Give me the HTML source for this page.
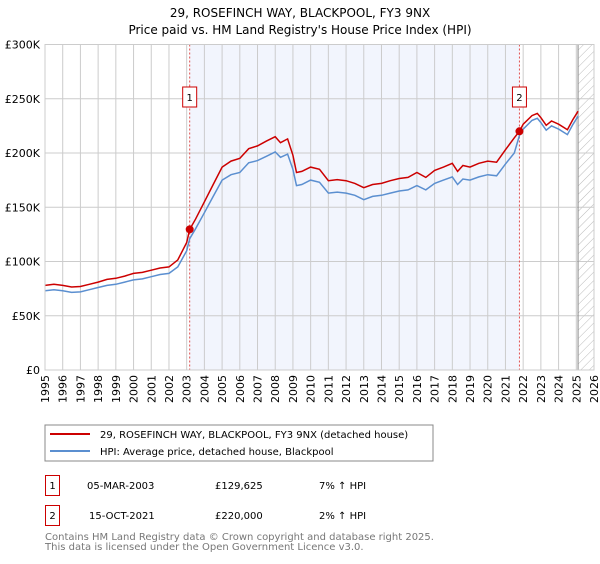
<!DOCTYPE html>
<html><head><meta charset="utf-8"><style>
body{margin:0;background:#fff;font-family:"DejaVu Sans","Liberation Sans",sans-serif;}
svg text{font-family:"DejaVu Sans","Liberation Sans",sans-serif;}
</style></head><body>
<svg id="chart" width="600" height="560" xmlns="http://www.w3.org/2000/svg">
<defs><pattern id="hatch" width="6" height="6" patternUnits="userSpaceOnUse" patternTransform="rotate(45)"><line x1="0" y1="0" x2="0" y2="6" stroke="#bbb" stroke-width="1"/></pattern></defs>
<text x="300" y="17" text-anchor="middle" font-size="12">29, ROSEFINCH WAY, BLACKPOOL, FY3 9NX</text>
<text x="300" y="34" text-anchor="middle" font-size="12">Price paid vs. HM Land Registry's House Price Index (HPI)</text>
<g id="plot"></g>
<rect x="45" y="425" width="388" height="36" fill="#fff" stroke="#888"/>
<line x1="50" y1="434" x2="90" y2="434" stroke="#cc0000" stroke-width="2"/>
<text x="100" y="438" font-size="10">29, ROSEFINCH WAY, BLACKPOOL, FY3 9NX (detached house)</text>
<line x1="50" y1="451" x2="90" y2="451" stroke="#5b8fd0" stroke-width="2"/>
<text x="100" y="455" font-size="10">HPI: Average price, detached house, Blackpool</text>
<rect x="45.5" y="475.5" width="14" height="20" fill="#fff" stroke="#cc0000"/>
<text x="52.5" y="489" text-anchor="middle" font-size="10">1</text>
<text x="87" y="489" font-size="10">05-MAR-2003</text>
<text x="215" y="489" font-size="10">£129,625</text>
<text x="319" y="489" font-size="10">7% ↑ HPI</text>
<rect x="45.5" y="505.5" width="14" height="20" fill="#fff" stroke="#cc0000"/>
<text x="52.5" y="519" text-anchor="middle" font-size="10">2</text>
<text x="89" y="519" font-size="10">15-OCT-2021</text>
<text x="215" y="519" font-size="10">£220,000</text>
<text x="319" y="519" font-size="10">2% ↑ HPI</text>
<text x="45" y="540" font-size="10" fill="#777">Contains HM Land Registry data © Crown copyright and database right 2025.</text>
<text x="45" y="550" font-size="10" fill="#777">This data is licensed under the Open Government Licence v3.0.</text>
</svg>
<script>
const hpiYears=[1995,1995.5,1996,1996.5,1997,1997.5,1998,1998.5,1999,1999.5,2000,2000.5,2001,2001.5,2002,2002.5,2003,2003.17,2003.5,2004,2004.5,2005,2005.5,2006,2006.5,2007,2007.5,2008,2008.3,2008.7,2009,2009.2,2009.5,2010,2010.5,2011,2011.5,2012,2012.5,2013,2013.5,2014,2014.5,2015,2015.5,2016,2016.5,2017,2017.5,2018,2018.3,2018.6,2019,2019.5,2020,2020.5,2021,2021.5,2021.79,2022,2022.5,2022.8,2023,2023.3,2023.6,2024,2024.5,2024.8,2025.1];
const hpiValues=[73,74,73,71.5,72,74,76,78,79,81,83,84,86,88,89,95,110,121,130,145,160,175,180,182,191,193,197,201,196,199,185,170,171,175,173,163,164,163,161,157,160,161,163,165,166,170,166,172,175,178,171,176,175,178,180,179,190,200,216,222,230,232,228,221,225,222,217,226,234];
const priceYears=hpiYears;
const priceValues=[78,79,78,76.5,77,79,81,83.5,84.5,86.5,89,90,92,94,95,101.5,117.5,129.6,139,155,171,187,192.5,195,204,206.5,211,215,209.5,213,198,182,183,187,185,174.5,175.5,174.5,172,168,171,172,174.5,176.5,177.5,182,177.5,184,187,190.5,183,188.5,187,190.5,192.5,191.5,203,214,220,226.5,234.5,236.5,232.5,225.5,229.5,226.5,221.5,230.5,238.5];
const yTicks=[0,50,100,150,200,250,300];
const yTickLabels=["£0","£50K","£100K","£150K","£200K","£250K","£300K"];
const xTicks=[1995,1996,1997,1998,1999,2000,2001,2002,2003,2004,2005,2006,2007,2008,2009,2010,2011,2012,2013,2014,2015,2016,2017,2018,2019,2020,2021,2022,2023,2024,2025,2026];
const saleYears=[2003.17,2021.79];
const saleValues=[129.625,220];
const saleLabels=["1","2"];
const dataEndYear=2025.1;

const L=45,R=594,T=44.5,B=370;
const X=y=>L+(y-1995)/(2026-1995)*(R-L);
const Y=v=>B-v/300*(B-T);
const NS="http://www.w3.org/2000/svg";
const g=document.getElementById('plot');
function mk(tag,attrs){const e=document.createElementNS(NS,tag);for(const k in attrs)e.setAttribute(k,attrs[k]);g.appendChild(e);return e;}

let e=mk('rect',{x:L,y:T,width:R-L,height:B-T,fill:'#fff'});


e=mk('rect',{x:X(saleYears[0]),y:T,width:X(saleYears[1])-X(saleYears[0]),height:B-T,fill:'#eef2fc',opacity:0.75});


e=mk('rect',{x:X(dataEndYear),y:T,width:R-X(dataEndYear),height:B-T,fill:'url(#hatch)'});


xTicks.forEach(t=>{
  e=mk('line',{x1:X(t),x2:X(t),y1:T,y2:B,stroke:'#ccc','stroke-width':1});
  
  
  const tx=X(t)+4, ty=375;
  e=mk('text',{x:tx,y:ty,'text-anchor':'end','font-size':11,transform:'rotate(-90 '+tx+' '+ty+')'});
  e.textContent=t;
  
  
});
yTicks.forEach((t,i)=>{
  e=mk('line',{x1:L,x2:R,y1:Y(t),y2:Y(t),stroke:'#ccc','stroke-width':1});
  
  
  e=mk('text',{x:40,y:Y(t)+4,'text-anchor':'end','font-size':11});
  e.textContent=yTickLabels[i];
  
  
});
e=mk('line',{x1:X(dataEndYear),x2:X(dataEndYear),y1:T,y2:B,stroke:'#888','stroke-width':1});


saleYears.forEach((s,i)=>{
  e=mk('line',{x1:X(s),x2:X(s),y1:T,y2:B,stroke:'#e05050','stroke-width':1,'stroke-dasharray':'2,2'});
  
  
  const bx=X(s)-7;
  e=mk('rect',{x:bx,y:87,width:14,height:20,fill:'#fff',stroke:'#cc0000'});
  
  
  e=mk('text',{x:X(s),y:101,'text-anchor':'middle','font-size':10});
  e.textContent=saleLabels[i];
  
  
});
function path(xs,vs){return xs.map((x,i)=>(i?'L':'M')+X(x).toFixed(1)+','+Y(vs[i]).toFixed(1)).join('');}
e=mk('path',{d:path(hpiYears,hpiValues),fill:'none',stroke:'#5b8fd0','stroke-width':1.5});


e=mk('path',{d:path(priceYears,priceValues),fill:'none',stroke:'#cc0000','stroke-width':1.5});


saleYears.forEach((s,i)=>{
  e=mk('circle',{cx:X(s),cy:Y(saleValues[i]),r:4,fill:'#cc0000'});
  
  
});
e=mk('rect',{x:L,y:T,width:R-L,height:B-T,fill:'none',stroke:'#ccc'});


</script>
</body></html>
